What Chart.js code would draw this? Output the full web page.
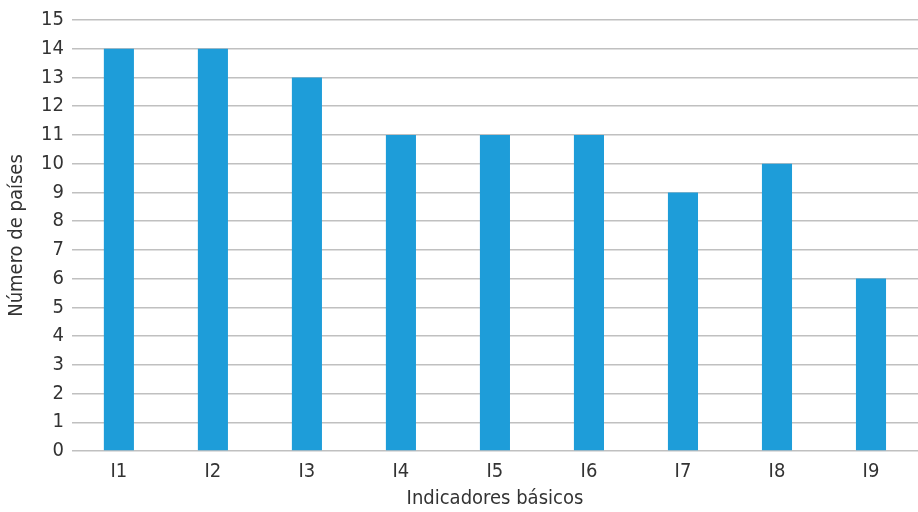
<!DOCTYPE html>
<html>
<head>
<meta charset="utf-8">
<script src="https://cdn.jsdelivr.net/npm/chart.js@4/dist/chart.umd.min.js"></script>
<style>
  html, body { margin: 0; padding: 0; background: #fff; }
  #wrap { width: 918px; height: 512px; }
</style>
</head>
<body>
<div id="wrap"><canvas id="chart"></canvas></div>
<script>
// values
const categories = ['I1','I2','I3','I4','I5','I6','I7','I8','I9'];
const paises = [14, 14, 13, 11, 11, 11, 9, 10, 6];
const yTicks = [0,1,2,3,4,5,6,7,8,9,10,11,12,13,14,15];

const FONT = '"Liberation Sans Narrow", "DejaVu Sans Condensed", "Roboto Condensed", sans-serif';
const TEXT = '#333333';
const GRID = '#c0c0c0';

new Chart(document.getElementById('chart'), {
  type: 'bar',
  data: {
    labels: categories,
    datasets: [{
      data: paises,
      backgroundColor: '#1e9dd9',
      borderWidth: 0,
      categoryPercentage: 1,
      barPercentage: 0.32
    }]
  },
  options: {
    responsive: true,
    maintainAspectRatio: false,
    animation: false,
    layout: { padding: { top: 10, right: 0, bottom: 1, left: 5 } },
    plugins: { legend: { display: false }, tooltip: { enabled: false } },
    scales: {
      x: {
        grid: { display: false },
        border: { display: false },
        ticks: { color: TEXT, font: { family: FONT, size: 20 }, padding: 1 },
        title: { display: true, text: 'Indicadores básicos', color: TEXT,
                 font: { family: FONT, size: 20 }, padding: { top: 2, bottom: 0 } }
      },
      y: {
        min: 0, max: 15,
        afterBuildTicks: (axis) => { axis.ticks = yTicks.map(v => ({ value: v })); },
        grid: { color: GRID, lineWidth: 1.5, drawTicks: false },
        border: { display: false },
        ticks: { color: TEXT, font: { family: FONT, size: 20 }, padding: 8 },
        title: { display: true, text: 'Número de países', color: TEXT,
                 font: { family: FONT, size: 20 }, padding: { top: 0, bottom: 4 } }
      }
    }
  }
});
</script>
</body>
</html>
